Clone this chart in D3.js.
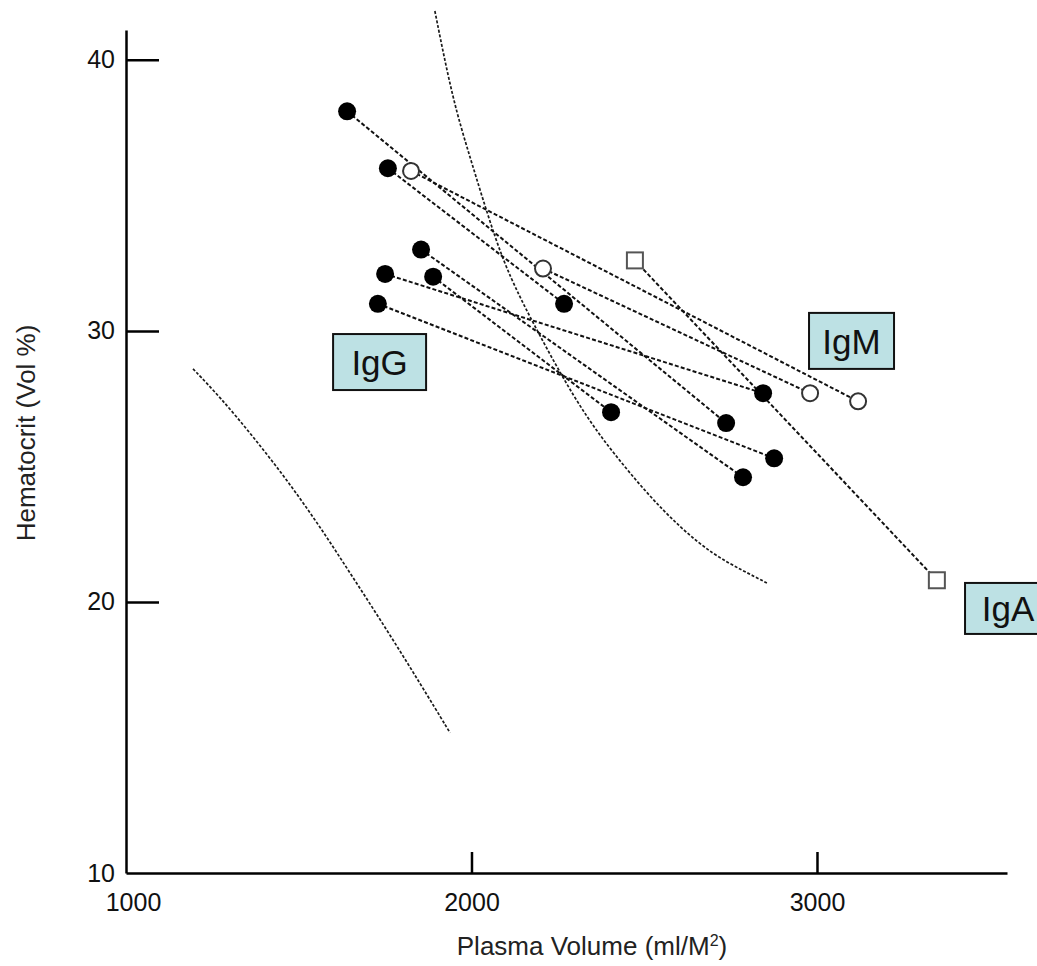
<!DOCTYPE html>
<html>
<head>
<meta charset="utf-8">
<script src="https://cdn.jsdelivr.net/npm/d3@7"></script>
<style>
  html, body { margin: 0; padding: 0; background: #fff; overflow: hidden; }
  svg { display: block; font-family: "Liberation Sans", Arial, sans-serif; }
</style>
</head>
<body>
<svg id="chart" width="1037" height="966"></svg>
<script>
// Tick labels
const xTicks = [1000, 2000, 3000];
const yTicks = [10, 20, 30, 40];

// IgG patients: [plasma volume, hematocrit] before -> after
const iggStart = [[1640, 38.1], [1758, 36.0], [1854, 33.0], [1750, 32.1], [1889, 32.0], [1729, 31.0]];
const iggEnd   = [[2737, 26.6], [2268, 31.0], [2786, 24.6], [2844, 27.7], [2404, 27.0], [2876, 25.3]];

// IgM patients
const igmStart = [[1825, 35.9], [2207, 32.3]];
const igmEnd   = [[3119, 27.4], [2980, 27.7]];

// IgA patient
const igaStart = [[2473, 32.6]];
const igaEnd   = [[3347, 20.8]];

// Reference curves
const curveUpper = [[1894, 41.8], [1946, 38.5], [1996, 36.4], [2045, 34.35], [2091, 32.6], [2140, 31.25],
  [2178, 30.3], [2256, 28.45], [2334, 26.8], [2410, 25.5], [2508, 24.0], [2603, 22.75], [2699, 21.75],
  [2786, 21.15], [2855, 20.7]];
const curveLower = [[1194, 28.6], [1272, 27.56], [1368, 26.1], [1466, 24.5], [1562, 22.77], [1657, 20.9],
  [1755, 18.97], [1851, 17.0], [1938, 15.17]];

// Group labels (centre position in data units)
const groupLabels = [
  { text: "IgG", px: 1734, hct: 28.85, w: 93, h: 56 },
  { text: "IgM", px: 3100, hct: 29.63, w: 85, h: 56 },
  { text: "IgA", px: 3553, hct: 19.76, w: 86, h: 51 }
];

const svg = d3.select("#chart");
const x = d3.scaleLinear().domain([1000, 3550]).range([126, 1007]);
const y = d3.scaleLinear().domain([10, 41.1]).range([873, 30]);

// Reference curves
const curveGen = d3.line().x(d => x(d[0])).y(d => y(d[1])).curve(d3.curveBasis);
[curveUpper, curveLower].forEach(c => {
  svg.append("path").attr("d", curveGen(c))
    .attr("fill", "none").attr("stroke", "#1a1a1a").attr("stroke-width", 1.7)
    .attr("stroke-dasharray", "3,1.8");
});

// Connecting lines
function drawPairs(starts, ends) {
  starts.forEach((s, i) => {
    const e = ends[i];
    svg.append("line")
      .attr("x1", x(s[0])).attr("y1", y(s[1]))
      .attr("x2", x(e[0])).attr("y2", y(e[1]))
      .attr("stroke", "#111").attr("stroke-width", 2)
      .attr("stroke-dasharray", "4,2.2");
  });
}
drawPairs(iggStart, iggEnd);
drawPairs(igmStart, igmEnd);
drawPairs(igaStart, igaEnd);

// Markers
svg.append("g").selectAll("circle").data(iggStart.concat(iggEnd)).join("circle")
  .attr("cx", d => x(d[0])).attr("cy", d => y(d[1])).attr("r", 9).attr("fill", "#000");
svg.append("g").selectAll("circle").data(igmStart.concat(igmEnd)).join("circle")
  .attr("cx", d => x(d[0])).attr("cy", d => y(d[1])).attr("r", 8)
  .attr("fill", "#fff").attr("stroke", "#333").attr("stroke-width", 2);
svg.append("g").selectAll("rect").data(igaStart.concat(igaEnd)).join("rect")
  .attr("x", d => x(d[0]) - 8).attr("y", d => y(d[1]) - 8).attr("width", 16).attr("height", 16)
  .attr("fill", "#fff").attr("stroke", "#555").attr("stroke-width", 2);

// Axes
const yAxis = d3.axisLeft(y).tickValues(yTicks).tickFormat(d3.format("d"))
  .tickSize(-33).tickSizeOuter(0).tickPadding(11);
const xAxis = d3.axisBottom(x).tickValues(xTicks).tickFormat(d3.format("d"))
  .tickSize(-21).tickSizeOuter(0).tickPadding(20);

const gy = svg.append("g").attr("transform", "translate(126,0)").call(yAxis);
const gx = svg.append("g").attr("transform", "translate(0,873)").call(xAxis);
[gx, gy].forEach(g => {
  g.select(".domain").attr("stroke", "#000").attr("stroke-width", 2.5);
  g.selectAll(".tick line").attr("stroke", "#000").attr("stroke-width", 2.5);
  g.selectAll(".tick text").attr("fill", "#111").attr("font-size", 25)
    .attr("font-family", "Liberation Sans, Arial, sans-serif");
});
gy.selectAll(".tick").filter(d => d === 10).select("line").remove();
gx.selectAll(".tick").filter(d => d === 1000).select("line").remove();
gx.selectAll(".tick").filter(d => d === 1000).select("text").attr("dx", 7);

// Axis titles
const xt = svg.append("text").attr("x", 592).attr("y", 955).attr("text-anchor", "middle")
  .attr("font-size", 26).attr("fill", "#222");
xt.append("tspan").text("Plasma Volume (ml/M");
xt.append("tspan").text("2").attr("font-size", 16).attr("dy", -9);
xt.append("tspan").text(")").attr("dy", 9);

svg.append("text").attr("transform", "translate(35,433) rotate(-90)")
  .attr("text-anchor", "middle").attr("font-size", 26).attr("fill", "#222")
  .text("Hematocrit (Vol %)");

// Group label boxes
const lg = svg.append("g").selectAll("g").data(groupLabels).join("g")
  .attr("transform", d => `translate(${x(d.px)},${y(d.hct)})`);
lg.append("rect").attr("x", d => -d.w / 2).attr("y", d => -d.h / 2)
  .attr("width", d => d.w).attr("height", d => d.h)
  .attr("fill", "#bde1e4").attr("stroke", "#111").attr("stroke-width", 2);
lg.append("text").attr("text-anchor", "middle").attr("dy", "0.36em")
  .attr("font-size", 35).attr("fill", "#111").text(d => d.text);
</script>
</body>
</html>
